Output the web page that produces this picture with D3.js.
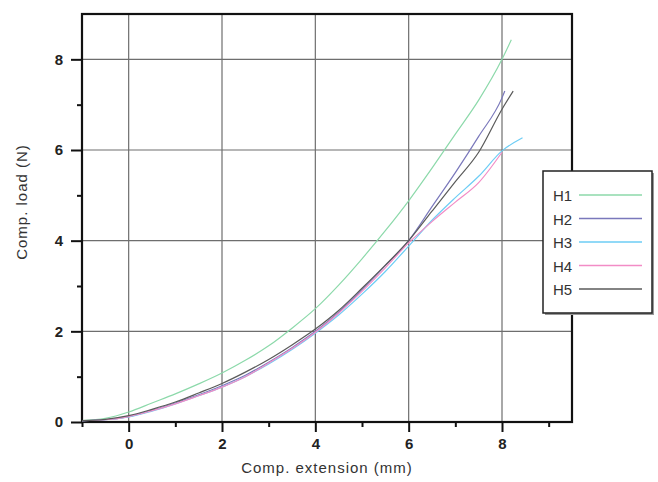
<!DOCTYPE html>
<html>
<head>
<meta charset="utf-8">
<script src="https://cdn.jsdelivr.net/npm/d3@7"></script>
<style>
  body { margin: 0; background: #fff; }
  text { font-family: "Liberation Sans", Arial, sans-serif; }
</style>
</head>
<body>
<div class="graph"></div>
<script>
const width = 658;
const height = 482;
const margin = { top: 14, right: 86, bottom: 60, left: 82 };

// data
const seriesNames = ["H1", "H2", "H3", "H4", "H5"];
const seriesColors = ["#8cd9aa", "#7a78bb", "#6dcdf5", "#f28cc6", "#5a5a5a"];

const h1X = [-1, -0.5, 0, 0.5, 1, 1.5, 2, 2.5, 3, 3.5, 4, 4.5, 5, 5.5, 6, 6.5, 7, 7.5, 8, 8.2];
const h1Y = [0.03, 0.08, 0.22, 0.42, 0.62, 0.84, 1.08, 1.36, 1.68, 2.07, 2.5, 3.02, 3.6, 4.22, 4.88, 5.6, 6.35, 7.1, 8.0, 8.43];

const h2X = [-1, -0.5, 0, 0.5, 1, 1.5, 2, 2.5, 3, 3.5, 4, 4.5, 5, 5.5, 6, 6.5, 7, 7.5, 8, 8.06];
const h2Y = [0.03, 0.05, 0.12, 0.26, 0.42, 0.6, 0.8, 1.03, 1.32, 1.64, 2.0, 2.42, 2.92, 3.45, 4.0, 4.75, 5.5, 6.3, 7.15, 7.3];

const h3X = [-1, -0.5, 0, 0.5, 1, 1.5, 2, 2.5, 3, 3.5, 4, 4.5, 5, 5.5, 6, 6.5, 7, 7.5, 8, 8.44];
const h3Y = [0.03, 0.05, 0.11, 0.24, 0.4, 0.58, 0.77, 1.0, 1.28, 1.6, 1.96, 2.36, 2.82, 3.32, 3.88, 4.45, 4.95, 5.42, 5.98, 6.27];

const h4X = [-1, -0.5, 0, 0.5, 1, 1.5, 2, 2.5, 3, 3.5, 4, 4.5, 5, 5.5, 6, 6.5, 7, 7.5, 8];
const h4Y = [0.03, 0.05, 0.12, 0.25, 0.4, 0.58, 0.77, 1.0, 1.3, 1.62, 1.98, 2.4, 2.88, 3.4, 3.95, 4.42, 4.85, 5.28, 5.95];

const h5X = [-1, -0.5, 0, 0.5, 1, 1.5, 2, 2.5, 3, 3.5, 4, 4.5, 5, 5.5, 6, 6.5, 7, 7.5, 8, 8.24];
const h5Y = [0.03, 0.06, 0.14, 0.28, 0.44, 0.64, 0.85, 1.1, 1.38, 1.7, 2.05, 2.46, 2.95, 3.46, 4.0, 4.65, 5.3, 5.95, 6.9, 7.3];

const xMajor = [0, 2, 4, 6, 8];
const xMinor = [-1, 1, 3, 5, 7, 9];
const yMajor = [0, 2, 4, 6, 8];
const yMinor = [1, 3, 5, 7];

const series = [
  { name: "H1", xs: h1X, ys: h1Y },
  { name: "H2", xs: h2X, ys: h2Y },
  { name: "H3", xs: h3X, ys: h3Y },
  { name: "H4", xs: h4X, ys: h4Y },
  { name: "H5", xs: h5X, ys: h5Y }
];

const canvas = d3.select(".graph")
  .append("svg")
  .attr("width", width)
  .attr("height", height);

const x = d3.scaleLinear()
  .domain([-1, 9.5])
  .range([margin.left, width - margin.right]);

const y = d3.scaleLinear()
  .domain([0, 9])
  .range([height - margin.bottom, margin.top]);

const color = d3.scaleOrdinal().domain(seriesNames).range(seriesColors);

// grid
canvas.append("g")
  .selectAll("line")
  .data(xMajor)
  .enter().append("line")
  .attr("x1", d => x(d)).attr("x2", d => x(d))
  .attr("y1", y(0)).attr("y2", y(9))
  .attr("stroke", "#6e6e6e").attr("stroke-width", 1.2);

canvas.append("g")
  .selectAll("line")
  .data(yMajor.filter(d => d > 0))
  .enter().append("line")
  .attr("x1", x(-1)).attr("x2", x(9.5))
  .attr("y1", d => y(d)).attr("y2", d => y(d))
  .attr("stroke", "#6e6e6e").attr("stroke-width", 1.2);

// axes
const xAxis = d3.axisBottom(x).tickValues(xMajor).tickSize(10).tickPadding(6);
const yAxis = d3.axisLeft(y).tickValues(yMajor).tickSize(11).tickPadding(8);

const gx = canvas.append("g")
  .attr("transform", `translate(0, ${y(0)})`)
  .call(xAxis);
const gy = canvas.append("g")
  .attr("transform", `translate(${x(-1)}, 0)`)
  .call(yAxis);

canvas.append("g")
  .attr("transform", `translate(0, ${y(0)})`)
  .call(d3.axisBottom(x).tickValues(xMinor).tickSize(5).tickFormat(""));
canvas.append("g")
  .attr("transform", `translate(${x(-1)}, 0)`)
  .call(d3.axisLeft(y).tickValues(yMinor).tickSize(5).tickFormat(""));

canvas.selectAll(".domain").remove();
canvas.selectAll(".tick line").attr("stroke", "#111").attr("stroke-width", 2);
[gx, gy].forEach(g => g.selectAll("text")
  .attr("fill", "#222")
  .style("font-size", "15px")
  .style("font-weight", "bold"));

// frame
canvas.append("rect")
  .attr("x", x(-1)).attr("y", y(9))
  .attr("width", x(9.5) - x(-1))
  .attr("height", y(0) - y(9))
  .attr("fill", "none")
  .attr("stroke", "#111")
  .attr("stroke-width", 2.2);

// lines
const line = d3.line()
  .x(d => x(d[0]))
  .y(d => y(d[1]))
  .curve(d3.curveMonotoneX);

canvas.append("g")
  .selectAll("path")
  .data(series)
  .enter().append("path")
  .attr("d", s => line(s.xs.map((v, i) => [v, s.ys[i]])))
  .attr("fill", "none")
  .attr("stroke", s => color(s.name))
  .attr("stroke-width", 1.2);

// axis titles
canvas.append("text")
  .attr("x", 327)
  .attr("y", 473)
  .attr("text-anchor", "middle")
  .attr("fill", "#333")
  .style("font-size", "15px")
  .style("letter-spacing", "1px")
  .text("Comp. extension (mm)");

canvas.append("text")
  .attr("transform", "rotate(-90)")
  .attr("x", -202)
  .attr("y", 27)
  .attr("text-anchor", "middle")
  .attr("fill", "#333")
  .style("font-size", "15px")
  .style("letter-spacing", "1px")
  .text("Comp. load (N)");

// legend
const legend = canvas.append("g").attr("transform", "translate(543, 171)");
legend.append("rect")
  .attr("x", 2).attr("y", 2)
  .attr("width", 109).attr("height", 142)
  .attr("fill", "#999");
legend.append("rect")
  .attr("width", 109).attr("height", 142)
  .attr("fill", "#fff")
  .attr("stroke", "#222")
  .attr("stroke-width", 1.5);

const item = legend.selectAll(".item")
  .data(seriesNames)
  .enter().append("g")
  .attr("transform", (d, i) => `translate(0, ${24 + i * 23.5})`);
item.append("text")
  .attr("x", 10).attr("y", 6)
  .attr("fill", "#333")
  .style("font-size", "15px")
  .text(d => d);
item.append("line")
  .attr("x1", 36).attr("x2", 99)
  .attr("stroke", d => color(d))
  .attr("stroke-width", 1.5);
</script>
</body>
</html>
